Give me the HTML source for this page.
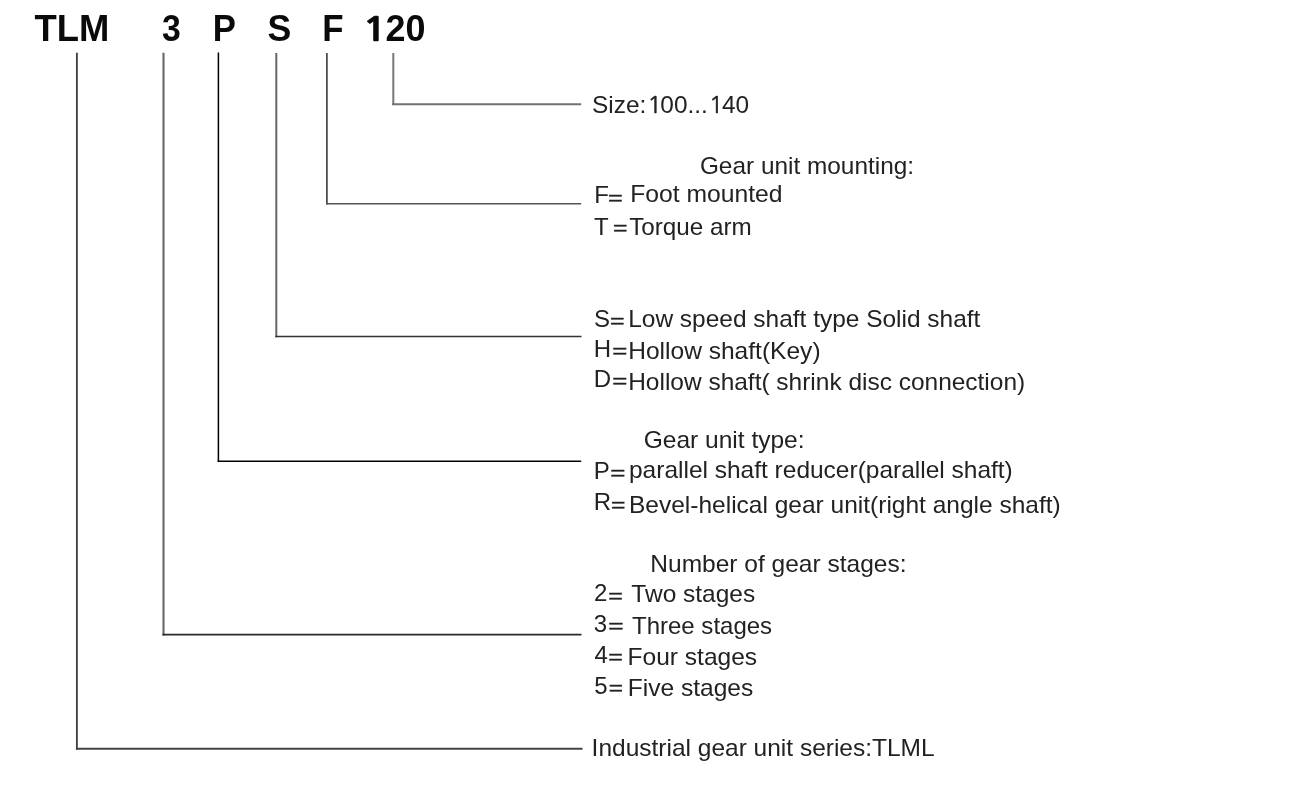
<!DOCTYPE html>
<html lang="en">
<head>
<meta charset="utf-8">
<title>TLM designation</title>
<style>
html,body{margin:0;padding:0;background:#fff;}
body{width:1302px;height:790px;overflow:hidden;}
svg{display:block;filter:blur(0.35px);}
.h{font-family:"Liberation Sans",Arial,sans-serif;font-weight:bold;font-size:36px;fill:#0a0a0a;}
.e{font-family:"Liberation Sans",Arial,sans-serif;font-size:18px;fill:#222;stroke:#222;stroke-width:0.35px;}
.n{font-family:NanumGothic,"Liberation Sans",sans-serif;}
.b .n{stroke:#222;stroke-width:0.45px;letter-spacing:-1.6px;}
.n1{font-family:NanumGothic,"Liberation Sans",sans-serif;font-size:33.4px;stroke:#0a0a0a;stroke-width:0.5px;}
.b{font-family:"Liberation Sans",Arial,sans-serif;font-size:24px;fill:#222;}
</style>
</head>
<body>
<svg width="1302" height="790" viewBox="0 0 1302 790">
<rect width="1302" height="790" fill="#fff"/>
<path d="M76.9 52.8V749.75" fill="none" stroke="#444" stroke-width="1.9"/>
<path d="M75.95 748.8H582.5" fill="none" stroke="#444" stroke-width="1.9"/>
<path d="M163.5 52.8V635.40" fill="none" stroke="#666" stroke-width="2.1"/>
<path d="M162.45 634.6H581.5" fill="none" stroke="#2a2a2a" stroke-width="1.6"/>
<path d="M218.4 52.4V462.10" fill="none" stroke="#000" stroke-width="1.5"/>
<path d="M217.65 461.3H581.2" fill="none" stroke="#000" stroke-width="1.6"/>
<path d="M276.3 53.0V337.30" fill="none" stroke="#666" stroke-width="2.0"/>
<path d="M275.30 336.5H581.5" fill="none" stroke="#333" stroke-width="1.6"/>
<path d="M326.9 53.0V204.60" fill="none" stroke="#505050" stroke-width="1.8"/>
<path d="M326.00 203.8H581.2" fill="none" stroke="#555" stroke-width="1.6"/>
<path d="M393.3 53.0V105.15" fill="none" stroke="#777" stroke-width="2.0"/>
<path d="M392.30 104.2H581.2" fill="none" stroke="#707070" stroke-width="1.9"/>
<text class="h" x="34.56" y="41.00" textLength="74.81" lengthAdjust="spacingAndGlyphs">TLM</text>
<text class="h" x="161.91" y="41.00" textLength="18.82" lengthAdjust="spacingAndGlyphs">3</text>
<text class="h" x="212.72" y="41.00" textLength="23.17" lengthAdjust="spacingAndGlyphs">P</text>
<text class="h" x="267.56" y="41.00" textLength="23.78" lengthAdjust="spacingAndGlyphs">S</text>
<text class="h" x="322.19" y="41.00" textLength="21.31" lengthAdjust="spacingAndGlyphs">F</text>
<text class="h n1" x="361.89" y="41.00" textLength="26.42" lengthAdjust="spacingAndGlyphs">1</text>
<text class="h" x="385.51" y="41.00" textLength="39.95" lengthAdjust="spacingAndGlyphs">20</text>
<text class="b" x="592.01" y="113.00" textLength="157.04" lengthAdjust="spacingAndGlyphs">Size:<tspan class="n" dx="0.9">1</tspan>00...<tspan class="n" dx="0.9">1</tspan>40</text>
<text class="b" x="699.91" y="174.00" textLength="214.15" lengthAdjust="spacingAndGlyphs">Gear unit mounting:</text>
<text class="b" x="630.23" y="202.00" textLength="152.30" lengthAdjust="spacingAndGlyphs">Foot mounted</text>
<text class="b" x="629.13" y="235.00" textLength="122.53" lengthAdjust="spacingAndGlyphs">Torque arm</text>
<text class="b" x="628.21" y="327.00" textLength="352.20" lengthAdjust="spacingAndGlyphs">Low speed shaft type Solid shaft</text>
<text class="b" x="628.23" y="359.00" textLength="192.34" lengthAdjust="spacingAndGlyphs">Hollow shaft(Key)</text>
<text class="b" x="628.21" y="390.00" textLength="396.96" lengthAdjust="spacingAndGlyphs">Hollow shaft( shrink disc connection)</text>
<text class="b" x="643.67" y="448.00" textLength="160.93" lengthAdjust="spacingAndGlyphs">Gear unit type:</text>
<text class="b" x="629.01" y="478.00" textLength="383.76" lengthAdjust="spacingAndGlyphs">parallel shaft reducer(parallel shaft)</text>
<text class="b" x="629.02" y="513.00" textLength="431.76" lengthAdjust="spacingAndGlyphs">Bevel-helical gear unit(right angle shaft)</text>
<text class="b" x="650.35" y="572.00" textLength="256.18" lengthAdjust="spacingAndGlyphs">Number of gear stages:</text>
<text class="b" x="631.38" y="602.00" textLength="123.77" lengthAdjust="spacingAndGlyphs">Two stages</text>
<text class="b" x="631.99" y="634.00" textLength="140.13" lengthAdjust="spacingAndGlyphs">Three stages</text>
<text class="b" x="627.60" y="665.00" textLength="129.55" lengthAdjust="spacingAndGlyphs">Four stages</text>
<text class="b" x="627.78" y="696.00" textLength="125.53" lengthAdjust="spacingAndGlyphs">Five stages</text>
<text class="b" x="591.64" y="756.00" textLength="342.99" lengthAdjust="spacingAndGlyphs">Industrial gear unit series:TLML</text>
<text class="b" x="594.30" y="203.40">F</text>
<text class="e" x="607.99" y="204.36" textLength="14.81" lengthAdjust="spacingAndGlyphs">=</text>
<text class="b" x="594.00" y="234.60">T</text>
<text class="e" x="612.92" y="234.36" textLength="14.47" lengthAdjust="spacingAndGlyphs">=</text>
<text class="b" x="593.89" y="326.50">S</text>
<text class="e" x="610.08" y="327.36" textLength="14.58" lengthAdjust="spacingAndGlyphs">=</text>
<text class="b" x="593.73" y="356.50">H</text>
<text class="e" x="612.39" y="356.76" textLength="15.08" lengthAdjust="spacingAndGlyphs">=</text>
<text class="b" x="593.73" y="387.30">D</text>
<text class="e" x="612.39" y="386.96" textLength="15.08" lengthAdjust="spacingAndGlyphs">=</text>
<text class="b" x="593.73" y="478.60">P</text>
<text class="e" x="610.16" y="479.36" textLength="15.16" lengthAdjust="spacingAndGlyphs">=</text>
<text class="b" x="593.73" y="510.00">R</text>
<text class="e" x="610.98" y="510.76" textLength="14.41" lengthAdjust="spacingAndGlyphs">=</text>
<text class="b" x="594.09" y="601.10">2</text>
<text class="e" x="608.38" y="601.56" textLength="14.65" lengthAdjust="spacingAndGlyphs">=</text>
<text class="b" x="593.77" y="631.60">3</text>
<text class="e" x="608.26" y="631.96" textLength="15.36" lengthAdjust="spacingAndGlyphs">=</text>
<text class="b" x="594.48" y="662.70">4</text>
<text class="e" x="608.38" y="662.76" textLength="14.65" lengthAdjust="spacingAndGlyphs">=</text>
<text class="b" x="594.30" y="693.80">5</text>
<text class="e" x="608.71" y="693.56" textLength="14.27" lengthAdjust="spacingAndGlyphs">=</text>
</svg>
</body>
</html>
